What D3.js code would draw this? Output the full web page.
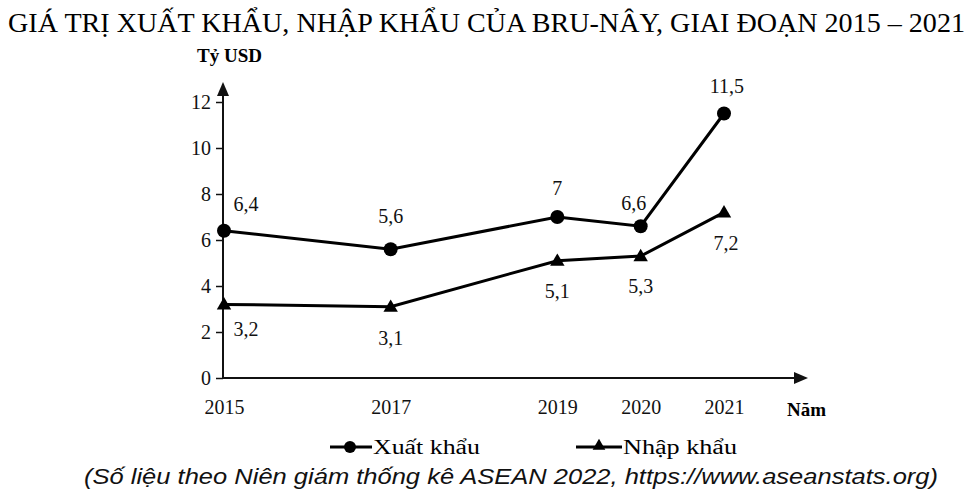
<!DOCTYPE html>
<html><head><meta charset="utf-8">
<script src="https://cdn.jsdelivr.net/npm/d3@7"></script>
<style>body{margin:0;background:#fff}svg{display:block}svg text{font-family:'Liberation Serif','Times New Roman',serif}</style>
</head><body>
<svg id="c" width="976" height="498"></svg>
<script>
const years = [2015, 2017, 2019, 2020, 2021];
const exportVals = [6.4, 5.6, 7, 6.6, 11.5];
const importVals = [3.2, 3.1, 5.1, 5.3, 7.2];
const exportLabels = ["6,4", "5,6", "7", "6,6", "11,5"];
const importLabels = ["3,2", "3,1", "5,1", "5,3", "7,2"];
const yTicks = [0, 2, 4, 6, 8, 10, 12];
const seriesNames = ["Xuất khẩu", "Nhập khẩu"];

const svg = d3.select("#c");
const serif = "'Liberation Serif','Times New Roman',serif";
const x = d3.scaleLinear().domain([2015, 2021]).range([224, 724]);
const y = d3.scaleLinear().domain([0, 12]).range([378, 102]);

// title
svg.append("text").attr("x", 8).attr("y", 32).style("font-family", serif).attr("font-size", 27)
  .attr("textLength", 957).attr("lengthAdjust", "spacingAndGlyphs")
  .text("GIÁ TRỊ XUẤT KHẨU, NHẬP KHẨU CỦA BRU-NÂY, GIAI ĐOẠN 2015 – 2021");
svg.append("text").attr("x", 197).attr("y", 62).style("font-family", serif).attr("font-size", 18)
  .attr("font-weight", "bold").attr("textLength", 65).attr("lengthAdjust", "spacingAndGlyphs").text("Tỷ USD");

// axes
const ax = svg.append("g").attr("stroke", "#111").attr("stroke-width", 2);
ax.append("line").attr("x1", x(2015) - 1).attr("x2", x(2015) - 1).attr("y1", y(0)).attr("y2", 92);
ax.append("line").attr("x1", x(2015) - 1).attr("x2", 798).attr("y1", y(0)).attr("y2", y(0));
svg.append("path").attr("d", `M${x(2015)-1},82 L${x(2015)-7},96 L${x(2015)+5},96 Z`).attr("fill", "#111");
svg.append("path").attr("d", `M808,${y(0)} L794,${y(0)-6} L794,${y(0)+6} Z`).attr("fill", "#111");

const yAxis = d3.axisLeft(y).tickValues(yTicks).tickSize(7).tickPadding(5).tickFormat(d3.format("d"));
const gy = svg.append("g").attr("transform", `translate(${x(2015) - 1},0)`).call(yAxis);
gy.select(".domain").remove();
gy.selectAll(".tick line").attr("stroke", "#111").attr("stroke-width", 1.5);
gy.selectAll(".tick text").style("font-family", serif).attr("font-size", 20).attr("fill", "#111");

const xAxis = d3.axisBottom(x).tickValues(years).tickSize(0).tickPadding(22).tickFormat(d3.format("d"));
const gx = svg.append("g").attr("transform", `translate(0,${y(0)})`).call(xAxis);
gx.select(".domain").remove();
gx.selectAll(".tick text").style("font-family", serif).attr("font-size", 20).attr("fill", "#111");
svg.append("text").attr("x", 787).attr("y", 416).style("font-family", serif).attr("font-size", 19)
  .attr("font-weight", "bold").text("Năm");

// lines
const line = d3.line().x((d, i) => x(years[i])).y(d => y(d));
svg.append("path").datum(exportVals).attr("d", line).attr("fill", "none").attr("stroke", "#000").attr("stroke-width", 3);
svg.append("path").datum(importVals).attr("d", line).attr("fill", "none").attr("stroke", "#000").attr("stroke-width", 3);
svg.selectAll(".ex").data(exportVals).join("circle").attr("cx", (d, i) => x(years[i])).attr("cy", d => y(d)).attr("r", 7).attr("fill", "#000");
const tri = d3.symbol().type(d3.symbolTriangle).size(90);
svg.selectAll(".im").data(importVals).join("path").attr("d", tri)
  .attr("transform", (d, i) => `translate(${x(years[i])},${y(d) + 1})`).attr("fill", "#000");

// data labels
const exOff = [[22, -20], [0, -26], [0, -22], [-7, -16], [3, -21]];
const imOff = [[22, 32], [0, 38], [0, 37], [0, 37], [2, 38]];
svg.selectAll(".exl").data(exportVals).join("text")
  .attr("x", (d, i) => x(years[i]) + exOff[i][0]).attr("y", (d, i) => y(d) + exOff[i][1])
  .attr("text-anchor", "middle").style("font-family", serif).attr("font-size", 20).attr("fill", "#111")
  .text((d, i) => exportLabels[i]);
svg.selectAll(".iml").data(importVals).join("text")
  .attr("x", (d, i) => x(years[i]) + imOff[i][0]).attr("y", (d, i) => y(d) + imOff[i][1])
  .attr("text-anchor", "middle").style("font-family", serif).attr("font-size", 20).attr("fill", "#111")
  .text((d, i) => importLabels[i]);

// legend
const lg = svg.append("g");
lg.append("line").attr("x1", 330).attr("x2", 372).attr("y1", 447).attr("y2", 447).attr("stroke", "#000").attr("stroke-width", 3);
lg.append("circle").attr("cx", 350).attr("cy", 447).attr("r", 6).attr("fill", "#000");
lg.append("text").attr("x", 373).attr("y", 454).style("font-family", serif).attr("font-size", 20)
  .attr("textLength", 107).attr("lengthAdjust", "spacingAndGlyphs").text(seriesNames[0]);
lg.append("line").attr("x1", 576).attr("x2", 622).attr("y1", 447).attr("y2", 447).attr("stroke", "#000").attr("stroke-width", 3);
lg.append("path").attr("d", d3.symbol().type(d3.symbolTriangle).size(70)).attr("transform", "translate(599,446)").attr("fill", "#000");
lg.append("text").attr("x", 623).attr("y", 454).style("font-family", serif).attr("font-size", 20)
  .attr("textLength", 114).attr("lengthAdjust", "spacingAndGlyphs").text(seriesNames[1]);

// source
svg.append("text").attr("x", 84).attr("y", 484).style("font-family", "'Liberation Sans Narrow','Liberation Sans',Arial,sans-serif")
  .attr("font-style", "italic").attr("font-size", 22).attr("fill", "#111")
  .attr("textLength", 854).attr("lengthAdjust", "spacingAndGlyphs")
  .text("(Số liệu theo Niên giám thống kê ASEAN 2022, https://www.aseanstats.org)");
</script>
</body></html>
